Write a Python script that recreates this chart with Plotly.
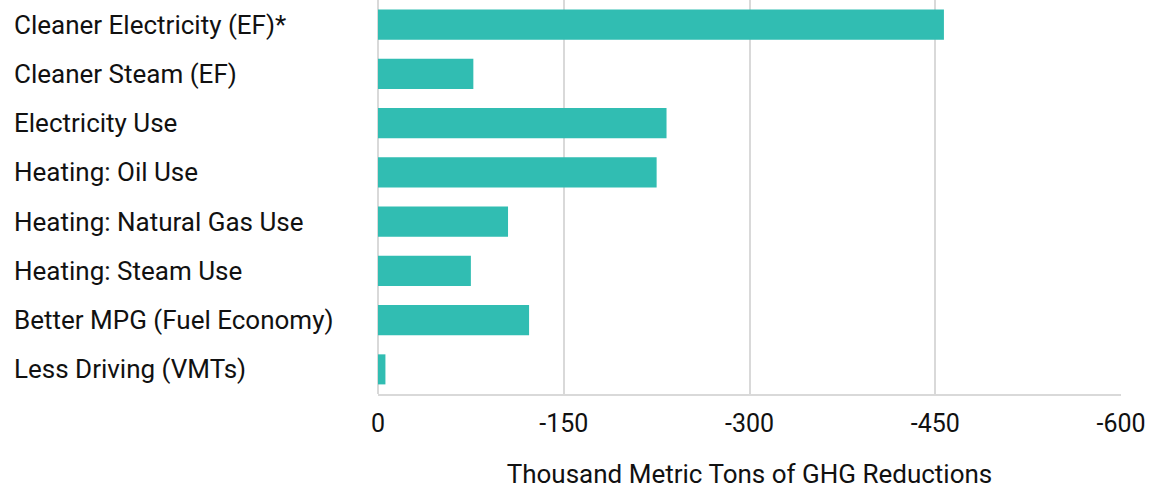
import plotly.graph_objects as go

categories = [
    "Cleaner Electricity (EF)*",
    "Cleaner Steam (EF)",
    "Electricity Use",
    "Heating: Oil Use",
    "Heating: Natural Gas Use",
    "Heating: Steam Use",
    "Better MPG (Fuel Economy)",
    "Less Driving (VMTs)",
]
values = [-457, -77, -233, -225, -105, -75, -122, -6]
tick_vals = [0, -150, -300, -450, -600]
tick_text = ["0", "-150", "-300", "-450", "-600"]
axis_title = "Thousand Metric Tons of GHG Reductions"

BAR = "#31BDB2"
GRID = "#D9D9D9"
FONT = "Roboto"

fig = go.Figure(go.Bar(
    y=categories, x=values, orientation="h",
    marker=dict(color=BAR, line=dict(width=0)),
    width=0.61,
))

for c in categories:
    fig.add_annotation(
        x=0, xref="paper", xshift=-366, y=c, yref="y",
        text=c, showarrow=False, xanchor="left", yanchor="middle",
        font=dict(family=FONT, size=26, color="#111111"),
    )

fig.update_layout(
    width=1157, height=489,
    margin=dict(l=378, r=36, t=0, b=95),
    paper_bgcolor="white", plot_bgcolor="white",
    showlegend=False,
    font=dict(family=FONT, color="#111111"),
    xaxis=dict(
        range=[0, -600], tickvals=tick_vals, ticktext=tick_text,
        showgrid=True, gridcolor=GRID, gridwidth=2,
        zeroline=True, zerolinecolor=GRID, zerolinewidth=2,
        showline=True, linecolor=GRID, linewidth=2,
        ticks="", ticklabelstandoff=6,
        tickfont=dict(family=FONT, size=25, color="#111111"),
        title=dict(text=axis_title, standoff=30,
                   font=dict(family=FONT, size=26, color="#111111")),
        fixedrange=True,
    ),
    yaxis=dict(
        categoryorder="array", categoryarray=categories,
        autorange="reversed", showticklabels=False,
        showgrid=False, zeroline=False, showline=False, ticks="",
        fixedrange=True,
    ),
    bargap=0.39,
)

fig.write_html(
    "out.html",
    config={"displayModeBar": False},
    post_script="document.body.style.margin='0';document.body.style.overflow='hidden';",
)
